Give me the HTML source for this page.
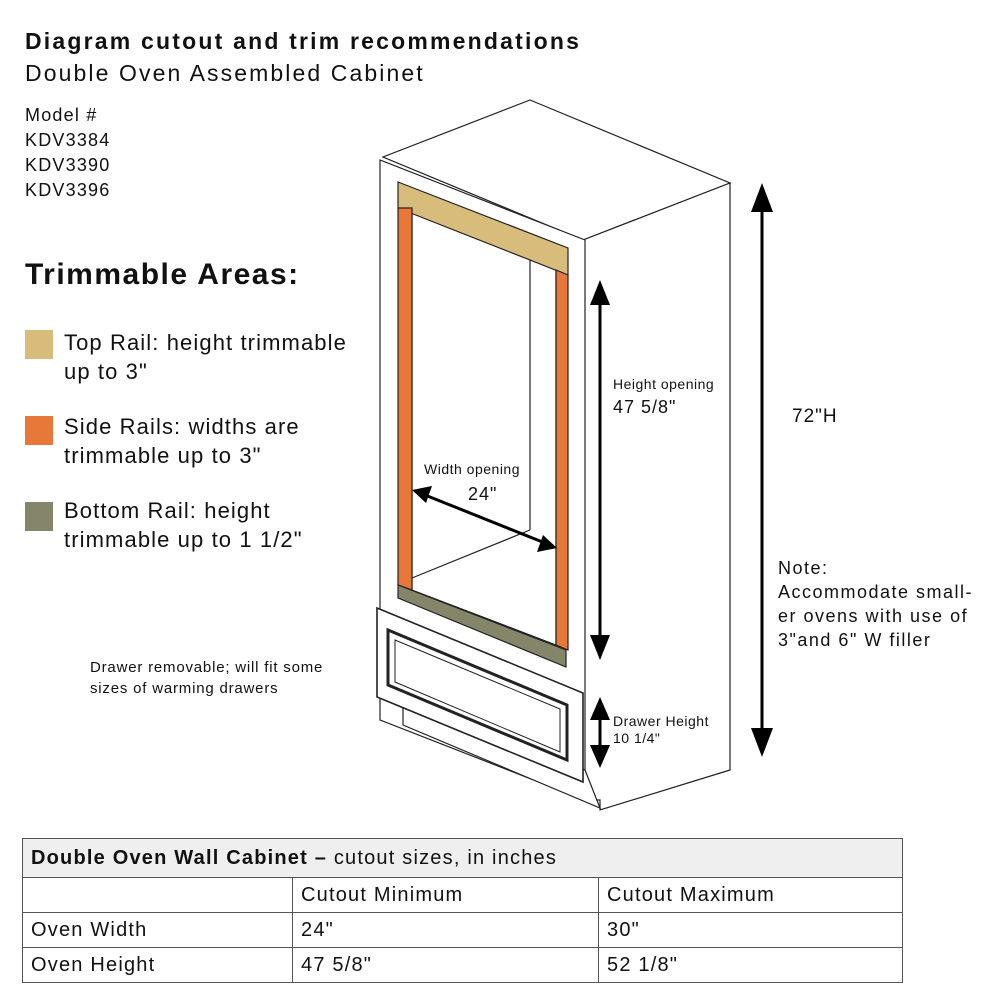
<!DOCTYPE html>
<html><head><style>
body{margin:0;width:1000px;height:1000px;background:#fff;font-family:"Liberation Sans",sans-serif;color:#111;position:relative;overflow:hidden}
.a{position:absolute;white-space:nowrap}
table{position:absolute;left:22px;top:838px;width:881px;border-collapse:collapse;font-size:20px;letter-spacing:1.2px}
td{border:1px solid #555;padding:0 8px;height:34px}
</style></head><body>
<div class="a" style="left:25px;top:28px;font-size:23px;font-weight:bold;letter-spacing:2.2px">Diagram cutout and trim recommendations</div>
<div class="a" style="left:25px;top:60px;font-size:23px;letter-spacing:2.1px">Double Oven Assembled Cabinet</div>
<div class="a" style="left:25px;top:103px;font-size:18px;line-height:25px;letter-spacing:1.2px">Model #<br>KDV3384<br>KDV3390<br>KDV3396</div>
<div class="a" style="left:25px;top:258px;font-size:30px;font-weight:bold;letter-spacing:1.5px">Trimmable Areas:</div>
<div class="a" style="left:25px;top:330px;width:28px;height:29px;background:#d8bc7c"></div>
<div class="a" style="left:25px;top:416px;width:28px;height:29px;background:#e8783a"></div>
<div class="a" style="left:25px;top:502px;width:28px;height:29px;background:#85856a"></div>
<div class="a" style="left:64px;top:328px;font-size:22px;line-height:29px;letter-spacing:1.1px">Top Rail: height trimmable<br>up to 3"</div>
<div class="a" style="left:64px;top:412px;font-size:22px;line-height:29px;letter-spacing:1.1px">Side Rails: widths are<br>trimmable up to 3"</div>
<div class="a" style="left:64px;top:496px;font-size:22px;line-height:29px;letter-spacing:1.1px">Bottom Rail: height<br>trimmable up to 1 1/2"</div>
<div class="a" style="left:90px;top:657px;font-size:15px;line-height:21px;letter-spacing:0.8px">Drawer removable; will fit some<br>sizes of warming drawers</div>
<svg class="a" style="left:0;top:0" width="1000" height="1000">
<g stroke="#222" stroke-width="1.2" fill="#fff">
<polygon points="530,100 730,183 583,240 383,157"/>
<polygon points="583,240 730,183 730,770 600,810 600,800 585,800"/>
<polygon points="380,160 585,240 585,800 380,720"/>
<polygon points="412,207 556,268 556,645 412,590" fill="#fff"/>
<line x1="530" y1="240" x2="530" y2="530"/>
<line x1="412" y1="578" x2="530" y2="530"/>
<polygon points="398,182 568,248 568,275 398,208" fill="#d8bc7c"/>
<polygon points="398,208 412,208 412,590 398,585" fill="#e8783a"/>
<polygon points="556,270 568,275 568,650 556,645" fill="#e8783a"/>
<polygon points="398,585 566,650 566,667 398,598" fill="#85856a"/>
<polygon points="403,697 585,770 600,808 403,725"/>
<polygon points="377,608 583,693 583,782 377,697" stroke-width="1.6"/>
<polygon points="388,630 567,705 567,760 388,685" stroke-width="3"/>
<polygon points="395,640 560,709 560,752 395,682" stroke-width="1"/>
</g>
<g stroke="#000" stroke-width="3">
<line x1="600" y1="295" x2="600" y2="645"/>
<line x1="600" y1="710" x2="600" y2="755"/>
<line x1="762" y1="200" x2="762" y2="740"/>
<line x1="425" y1="495" x2="545" y2="543"/>
</g>
<g fill="#000">
<polygon points="600,280 590,305 610,305"/><polygon points="600,660 590,635 610,635"/>
<polygon points="600,697 590,720 610,720"/><polygon points="600,768 590,745 610,745"/>
<polygon points="762,183 751,212 773,212"/><polygon points="762,757 751,728 773,728"/>
<polygon points="412,490 432,486 426,503"/><polygon points="557,548 537,552 543,535"/>
</g>
</svg>
<div class="a" style="left:613px;top:376px;font-size:14px;letter-spacing:0.5px">Height opening</div>
<div class="a" style="left:613px;top:397px;font-size:18px;letter-spacing:1px">47 5/8"</div>
<div class="a" style="left:424px;top:461px;font-size:14px;letter-spacing:0.5px">Width opening</div>
<div class="a" style="left:468px;top:484px;font-size:18px;letter-spacing:1px">24"</div>
<div class="a" style="left:613px;top:713px;font-size:14px;line-height:17px;letter-spacing:0.5px">Drawer Height<br>10 1/4"</div>
<div class="a" style="left:792px;top:406px;font-size:19px;letter-spacing:1px">72"H</div>
<div class="a" style="left:778px;top:556px;font-size:18px;line-height:24px;letter-spacing:1.5px">Note:<br>Accommodate small-<br>er ovens with use of<br>3"and 6" W filler</div>
<table>
<tr style="background:#efefef"><td colspan="3" style="height:38px"><b>Double Oven Wall Cabinet –</b> cutout sizes, in inches</td></tr>
<tr><td style="width:253px"></td><td style="width:289px">Cutout Minimum</td><td>Cutout Maximum</td></tr>
<tr><td>Oven Width</td><td>24"</td><td>30"</td></tr>
<tr><td>Oven Height</td><td>47 5/8"</td><td>52 1/8"</td></tr>
</table>
</body></html>
